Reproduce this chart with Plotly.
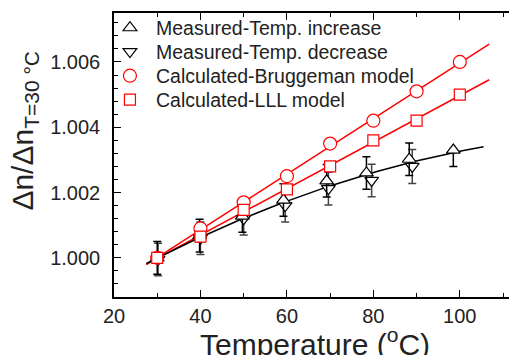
import numpy as np
import plotly.graph_objects as go

# ---- data ----
T_calc = [30, 40, 50, 60, 70, 80, 90, 100]
n_brugg = [1.0000, 1.0009, 1.0017, 1.0025, 1.0035, 1.0042, 1.0051, 1.0060]
n_lll = [1.0000, 1.00065, 1.00147, 1.0021, 1.0028, 1.0036, 1.0042, 1.0050]

T_inc = [30.0, 39.8, 49.7, 59.2, 69.2, 78.4, 88.3, 98.5]
n_inc = [1.0000, 1.00068, 1.00128, 1.00177, 1.00236, 1.00260, 1.00302, 1.00330]
err_inc_plus = [0.0005, 0.0005, 0.0005, 0.0005, 0.0005, 0.0005, 0.0005, 0.0]
err_inc_minus = [0.0005, 0.0005, 0.0005, 0.0005, 0.0005, 0.0005, 0.0005, 0.0005]

T_dec = [30.2, 40.0, 50.0, 59.6, 69.6, 79.6, 89.0]
n_dec = [0.99995, 1.0006, 1.0012, 1.0016, 1.00212, 1.00237, 1.00280]
err_dec = [0.0005, 0.0005, 0.0005, 0.0005, 0.0005, 0.0005, 0.00052]

FIT_START = 27.5
FIT_END_RED = 106.8
FIT_END_BLACK = 105.5

x_ticks = [20, 40, 60, 80, 100]
y_ticks = [1.000, 1.002, 1.004, 1.006]

FONT = "Liberation Sans, Arial, sans-serif"
TXT = "#222222"

# fits
pb = np.polyfit(T_calc, n_brugg, 1)
pl = np.polyfit(T_calc, n_lll, 1)
pm = np.polyfit(T_inc + T_dec, n_inc + n_dec, 2)
xr = np.linspace(FIT_START, FIT_END_RED, 50)
xk = np.linspace(FIT_START, FIT_END_BLACK, 80)

fig = go.Figure()
fig.add_trace(go.Scatter(x=xr, y=np.polyval(pb, xr), mode="lines",
                         line=dict(color="#ff0000", width=1.5), showlegend=False))
fig.add_trace(go.Scatter(x=xr, y=np.polyval(pl, xr), mode="lines",
                         line=dict(color="#ff0000", width=1.5), showlegend=False))
fig.add_trace(go.Scatter(x=xk, y=np.polyval(pm, xk), mode="lines",
                         line=dict(color="black", width=1.5), showlegend=False))

fig.add_trace(go.Scatter(
    x=T_dec, y=n_dec, mode="markers", name="Measured-Temp. decrease", legend="legend2",
    marker=dict(symbol="triangle-down", size=12, color="white",
                line=dict(color="black", width=1.2)),
    error_y=dict(type="data", array=err_dec, color="#444444", thickness=1.5, width=4)))
fig.add_trace(go.Scatter(
    x=T_inc, y=n_inc, mode="markers", name="Measured-Temp. increase", legend="legend",
    marker=dict(symbol="triangle-up", size=12, color="white",
                line=dict(color="black", width=1.2)),
    error_y=dict(type="data", symmetric=False, array=err_inc_plus,
                 arrayminus=err_inc_minus, color="black", thickness=1.5, width=4)))
fig.add_trace(go.Scatter(
    x=T_calc, y=n_brugg, mode="markers", name="Calculated-Bruggeman model", legend="legend3",
    marker=dict(symbol="circle", size=13, color="white",
                line=dict(color="#ff0000", width=1.2))))
fig.add_trace(go.Scatter(
    x=T_calc, y=n_lll, mode="markers", name="Calculated-LLL model", legend="legend4",
    marker=dict(symbol="square", size=11, color="white",
                line=dict(color="#ff0000", width=1.2))))

axis_common = dict(showgrid=False, zeroline=False, showline=True, linecolor="black",
                   linewidth=1.5, mirror="ticks", ticks="inside", ticklen=7,
                   tickwidth=1.2, tickcolor="black", automargin=False,
                   tickfont=dict(family=FONT, size=20, color=TXT))

fig.update_xaxes(range=[20, 113], tickvals=x_ticks, ticklabelstandoff=0,
                 minor=dict(dtick=10, tick0=0, ticks="inside", ticklen=4,
                            tickwidth=1.2, tickcolor="black"),
                 **axis_common)
fig.update_yaxes(range=[0.9988, 1.0075], tickvals=y_ticks, tickformat=".3f",
                 ticklabelstandoff=8,
                 minor=dict(dtick=0.0004, tick0=1.0, ticks="inside", ticklen=4,
                            tickwidth=1.2, tickcolor="black"),
                 **axis_common)

fig.add_annotation(text="Δn/Δn<sub>T=30 °C</sub>", textangle=-90,
                   xref="paper", yref="paper", x=-0.222, y=0.585,
                   xanchor="center", yanchor="middle", showarrow=False,
                   font=dict(family=FONT, size=30, color=TXT))
fig.add_annotation(text="Temperature (<sup>o</sup>C)",
                   xref="paper", yref="paper", x=0.5, y=-0.084,
                   xanchor="center", yanchor="top", showarrow=False,
                   font=dict(family=FONT, size=30, color=TXT))

leg_common = dict(x=-0.025, xanchor="left", yanchor="middle", itemwidth=42,
                  bgcolor="rgba(0,0,0,0)", borderwidth=0,
                  font=dict(family=FONT, size=19.5, color=TXT))

# page body adds an 8px offset; margins compensate
fig.update_layout(
    width=509, height=347,
    margin=dict(l=106, r=1, t=5, b=58),
    plot_bgcolor="white", paper_bgcolor="white",
    legend=dict(y=0.947, **leg_common),
    legend2=dict(y=0.863, **leg_common),
    legend3=dict(y=0.778, **leg_common),
    legend4=dict(y=0.694, **leg_common),
    font=dict(family=FONT),
)

fig.write_html("out.html")
